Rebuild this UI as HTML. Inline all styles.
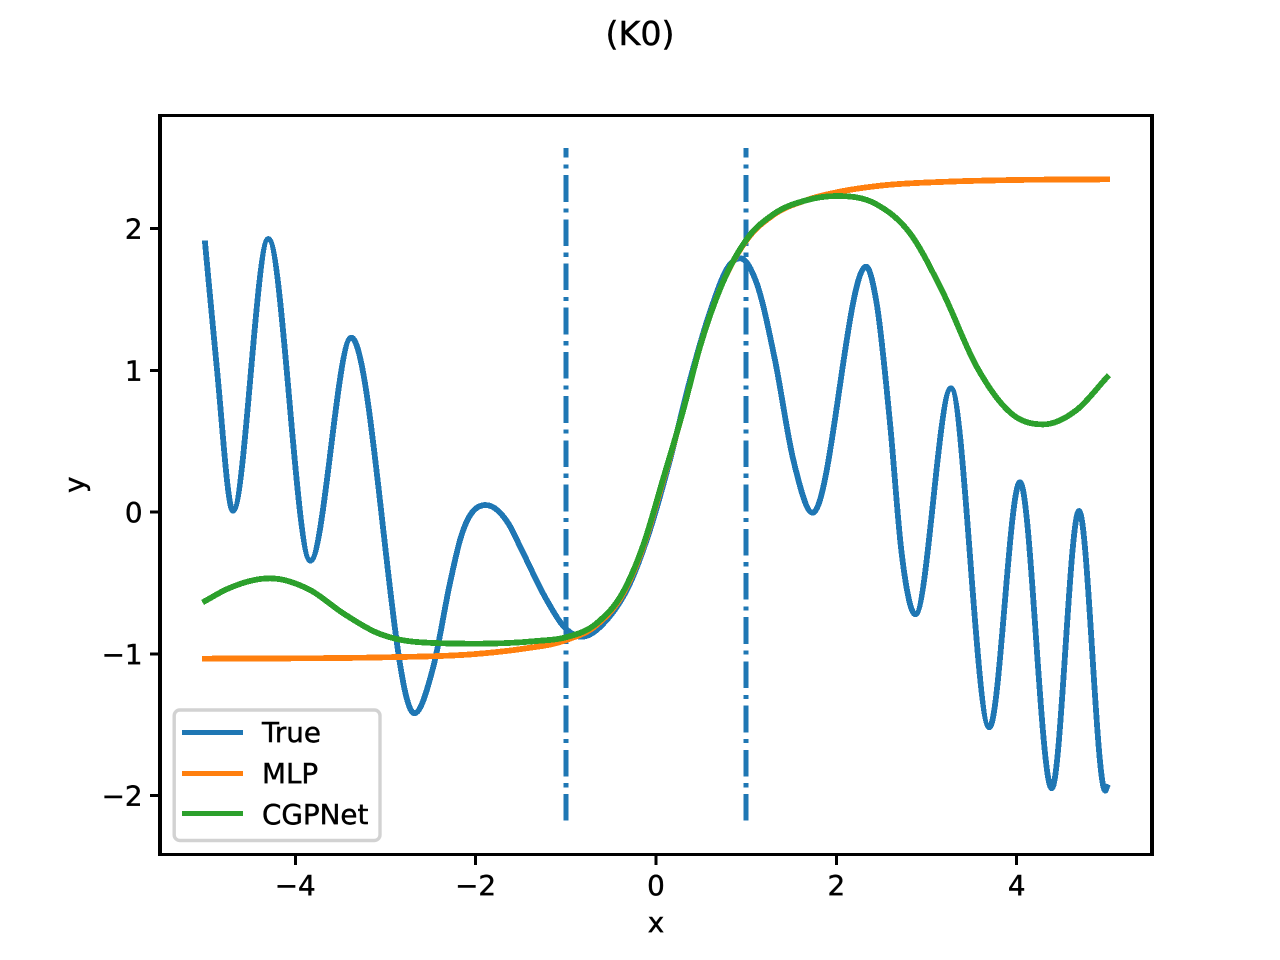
<!DOCTYPE html>
<html lang="en">
<head>
<meta charset="utf-8">
<title>(K0)</title>
<style>
html,body{margin:0;padding:0;background:#fff;width:1280px;height:960px;overflow:hidden}
svg{display:block}
text{font-family:"DejaVu Sans","Liberation Sans",sans-serif;fill:#000;stroke:#000;stroke-width:0.45px}
</style>
</head>
<body>
<svg id="chart" width="1280" height="960" viewBox="0 0 1280 960" xmlns="http://www.w3.org/2000/svg">
  <rect x="0" y="0" width="1280" height="960" fill="#fff"/>
  <text x="640" y="45" font-size="33.3" text-anchor="middle">(K0)</text>
  <g id="series"></g>
  <g fill="#000" shape-rendering="crispEdges">
    <rect x="158" y="114" width="4" height="742"/>
    <rect x="1150" y="114" width="4" height="742"/>
    <rect x="158" y="114" width="996" height="3"/>
    <rect x="158" y="853" width="996" height="3"/>
  </g>
  <g id="ticks"></g>
  <text x="656" y="932" font-size="27.78" text-anchor="middle">x</text>
  <text x="0" y="0" font-size="27.78" text-anchor="middle" transform="translate(84 484.8) rotate(-90)">y</text>
  <g>
    <rect x="174.2" y="710" width="205.8" height="130.5" rx="5.6" ry="5.6" fill="#fff" fill-opacity="0.8" stroke="#d2d2d2" stroke-width="3.4"/>
    <rect x="182" y="730" width="61" height="5" fill="#1f77b4" shape-rendering="crispEdges"/>
    <text x="262" y="742" font-size="27.78">True</text>
    <rect x="182" y="771" width="61" height="5" fill="#ff7f0e" shape-rendering="crispEdges"/>
    <text x="262" y="783" font-size="27.78">MLP</text>
    <rect x="182" y="811" width="61" height="5" fill="#2ca02c" shape-rendering="crispEdges"/>
    <text x="262" y="824" font-size="27.78">CGPNet</text>
  </g>
</svg>
<script>
const xTicks = [-4, -2, 0, 2, 4];
const yTicks = [-2, -1, 0, 1, 2];
const boundaryX = [-1, 1];
const boundaryRange = [-2.178, 2.568];

const trueX = [-5,-4.871,-4.691,-4.299,-3.833,-3.379,-2.68,-2.469,-2.284,-2.173,-1.888,-1.638,-1.489,-1.212,-1.005,-0.824,-0.547,-0.288,-0.067,0.155,0.377,0.618,0.802,0.931,1.117,1.32,1.523,1.737,2.329,2.447,2.595,2.724,2.876,3.271,3.696,4.036,4.388,4.691,4.982,5];
const trueY = [1.895,1.025,0.009,1.926,-0.343,1.23,-1.42,-1.091,-0.5,-0.198,0.049,-0.08,-0.268,-0.621,-0.82,-0.88,-0.762,-0.503,-0.127,0.367,0.931,1.448,1.731,1.79,1.613,1.07,0.367,-0.005,1.731,1.472,0.626,-0.291,-0.722,0.873,-1.519,0.21,-1.949,0.007,-1.966,-1.94];

const mlpX = [-5,-3,-2,-1.5,-1.005,-0.658,-0.363,-0.141,0.081,0.303,0.488,0.728,1.006,1.301,1.671,2.04,2.484,3.223,3.962,5];
const mlpY = [-1.035,-1.025,-1.002,-0.967,-0.905,-0.797,-0.574,-0.245,0.226,0.72,1.166,1.6,1.919,2.095,2.201,2.26,2.302,2.33,2.342,2.347];

const cgpX = [-5,-4.761,-4.28,-3.837,-3.468,-3.097,-2.691,-2,-1.323,-1.005,-0.658,-0.363,-0.141,0.081,0.303,0.488,0.728,1.006,1.301,1.671,2,2.447,2.817,3.186,3.556,3.962,4.295,4.665,5];
const cgpY = [-0.628,-0.545,-0.468,-0.55,-0.715,-0.851,-0.915,-0.929,-0.91,-0.885,-0.785,-0.562,-0.233,0.238,0.72,1.166,1.6,1.925,2.1,2.2,2.229,2.17,1.966,1.543,1.025,0.684,0.618,0.72,0.95];

const NS = 'http://www.w3.org/2000/svg';
function xScale(v) { return 656 + v * 90.18; }
function yScale(v) { return 512 - v * 141.75; }

function smoothPath(xs, ys) {
  const n = xs.length;
  const h = [];
  const s = [];
  for (let i = 0; i < n - 1; i++) {
    h.push(xs[i + 1] - xs[i]);
    s.push((ys[i + 1] - ys[i]) / h[i]);
  }
  const m = [s[0]];
  for (let i = 1; i < n - 1; i++) {
    if (s[i - 1] * s[i] <= 0) {
      m.push(0);
    } else {
      const mean = (h[i] * s[i - 1] + h[i - 1] * s[i]) / (h[i - 1] + h[i]);
      const limit = 3 * Math.min(Math.abs(s[i - 1]), Math.abs(s[i]));
      m.push(Math.sign(mean) * Math.min(Math.abs(mean), limit));
    }
  }
  m.push(s[n - 2]);
  let d = 'M' + xScale(xs[0]).toFixed(2) + ' ' + yScale(ys[0]).toFixed(2);
  for (let i = 0; i < n - 1; i++) {
    const t = h[i] / 3;
    d += 'C' + xScale(xs[i] + t).toFixed(2) + ' ' + yScale(ys[i] + m[i] * t).toFixed(2) +
         ' ' + xScale(xs[i + 1] - t).toFixed(2) + ' ' + yScale(ys[i + 1] - m[i + 1] * t).toFixed(2) +
         ' ' + xScale(xs[i + 1]).toFixed(2) + ' ' + yScale(ys[i + 1]).toFixed(2);
  }
  return d;
}

const seriesGroup = document.getElementById('series');
const tickGroup = document.getElementById('ticks');

boundaryX.forEach(function (v) {
  const el = document.createElementNS(NS, 'line');
  
  
  el.setAttribute('x1', xScale(v));
  el.setAttribute('x2', xScale(v));
  el.setAttribute('y1', yScale(boundaryRange[0]));
  el.setAttribute('y2', yScale(boundaryRange[1]));
  el.setAttribute('stroke', '#1f77b4');
  el.setAttribute('stroke-width', '5');
  el.setAttribute('stroke-dasharray', '26.7 6.67 4.17 6.67');
  el.setAttribute('shape-rendering', 'crispEdges');
  seriesGroup.appendChild(el);
});

const pathTrue = document.createElementNS(NS, 'path');


pathTrue.setAttribute('d', smoothPath(trueX, trueY));
pathTrue.setAttribute('stroke', '#1f77b4');
seriesGroup.appendChild(pathTrue);

const pathMlp = document.createElementNS(NS, 'path');


pathMlp.setAttribute('d', smoothPath(mlpX, mlpY));
pathMlp.setAttribute('stroke', '#ff7f0e');
seriesGroup.appendChild(pathMlp);

const pathCgp = document.createElementNS(NS, 'path');


pathCgp.setAttribute('d', smoothPath(cgpX, cgpY));
pathCgp.setAttribute('stroke', '#2ca02c');
seriesGroup.appendChild(pathCgp);

[pathTrue, pathMlp, pathCgp].forEach(function (p) {
  p.setAttribute('fill', 'none');
  p.setAttribute('stroke-width', '5.8');
  p.setAttribute('stroke-linecap', 'square');
  p.setAttribute('stroke-linejoin', 'round');
  p.setAttribute('shape-rendering', 'crispEdges');
});

function label(v) { return v < 0 ? '\u2212' + Math.abs(v) : String(v); }

xTicks.forEach(function (v) {
  const mark = document.createElementNS(NS, 'line');
  
  
  mark.setAttribute('x1', xScale(v));
  mark.setAttribute('x2', xScale(v));
  mark.setAttribute('y1', 854.4);
  mark.setAttribute('y2', 865);
  mark.setAttribute('stroke', '#000');
  mark.setAttribute('stroke-width', '3');
  mark.setAttribute('shape-rendering', 'crispEdges');
  tickGroup.appendChild(mark);
  const text = document.createElementNS(NS, 'text');
  
  
  text.setAttribute('x', xScale(v));
  text.setAttribute('y', 895);
  text.setAttribute('font-size', '27.78');
  text.setAttribute('text-anchor', 'middle');
  text.textContent = label(v);
  tickGroup.appendChild(text);
});

yTicks.forEach(function (v) {
  const mark = document.createElementNS(NS, 'line');
  
  
  mark.setAttribute('x1', 150);
  mark.setAttribute('x2', 160);
  mark.setAttribute('y1', yScale(v));
  mark.setAttribute('y2', yScale(v));
  mark.setAttribute('stroke', '#000');
  mark.setAttribute('stroke-width', '3');
  mark.setAttribute('shape-rendering', 'crispEdges');
  tickGroup.appendChild(mark);
  const text = document.createElementNS(NS, 'text');
  
  
  text.setAttribute('x', 142.5);
  text.setAttribute('y', yScale(v) + 10);
  text.setAttribute('font-size', '27.78');
  text.setAttribute('text-anchor', 'end');
  text.textContent = label(v);
  tickGroup.appendChild(text);
});
</script>
</body>
</html>
